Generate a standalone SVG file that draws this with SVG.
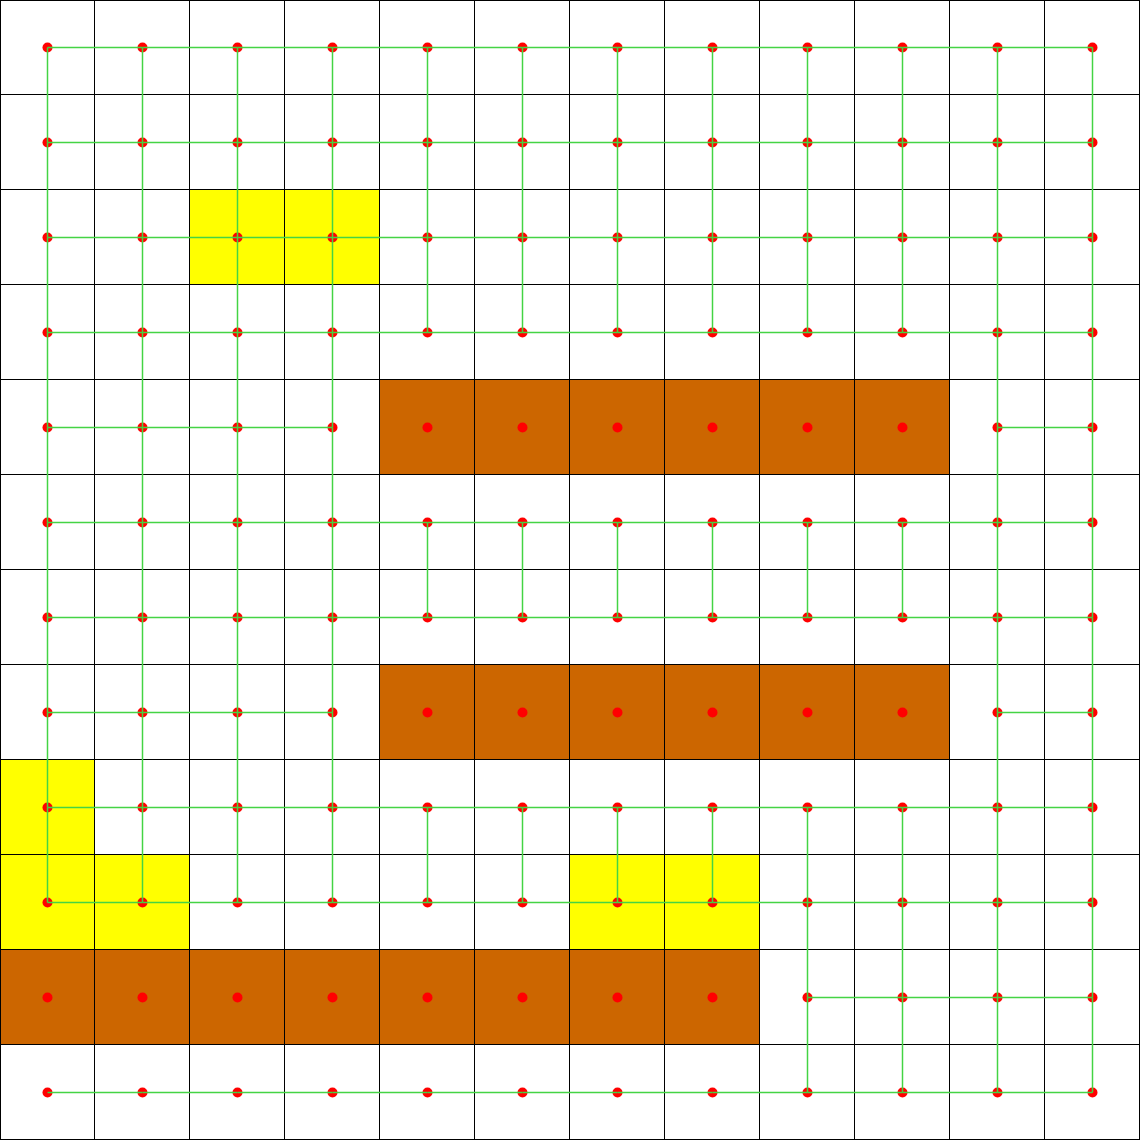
<svg xmlns="http://www.w3.org/2000/svg" width="1140" height="1140" viewBox="0 0 1140 1140">
<style>
.w{fill:#ffffff}
.y{fill:#ffff00}
.b{fill:#cc6600}
.d{fill:#ff0000}
#grid{fill:none;stroke:#000000;stroke-width:1}
#connectors path{fill:none;stroke:#44d444;stroke-width:1.5}
</style>
<defs>
<rect id="cell" width="95" height="95"/>
<circle id="dot" class="d" cx="47.5" cy="47.5" r="5"/>
</defs>
<rect width="1140" height="1140" fill="#ffffff"/>
<g id="nodes">
<g id="n0_0" class="w" transform="translate(0,0)"><use href="#cell"/><use href="#dot"/></g>
<g id="n0_1" class="w" transform="translate(95,0)"><use href="#cell"/><use href="#dot"/></g>
<g id="n0_2" class="w" transform="translate(190,0)"><use href="#cell"/><use href="#dot"/></g>
<g id="n0_3" class="w" transform="translate(285,0)"><use href="#cell"/><use href="#dot"/></g>
<g id="n0_4" class="w" transform="translate(380,0)"><use href="#cell"/><use href="#dot"/></g>
<g id="n0_5" class="w" transform="translate(475,0)"><use href="#cell"/><use href="#dot"/></g>
<g id="n0_6" class="w" transform="translate(570,0)"><use href="#cell"/><use href="#dot"/></g>
<g id="n0_7" class="w" transform="translate(665,0)"><use href="#cell"/><use href="#dot"/></g>
<g id="n0_8" class="w" transform="translate(760,0)"><use href="#cell"/><use href="#dot"/></g>
<g id="n0_9" class="w" transform="translate(855,0)"><use href="#cell"/><use href="#dot"/></g>
<g id="n0_10" class="w" transform="translate(950,0)"><use href="#cell"/><use href="#dot"/></g>
<g id="n0_11" class="w" transform="translate(1045,0)"><use href="#cell"/><use href="#dot"/></g>
<g id="n1_0" class="w" transform="translate(0,95)"><use href="#cell"/><use href="#dot"/></g>
<g id="n1_1" class="w" transform="translate(95,95)"><use href="#cell"/><use href="#dot"/></g>
<g id="n1_2" class="w" transform="translate(190,95)"><use href="#cell"/><use href="#dot"/></g>
<g id="n1_3" class="w" transform="translate(285,95)"><use href="#cell"/><use href="#dot"/></g>
<g id="n1_4" class="w" transform="translate(380,95)"><use href="#cell"/><use href="#dot"/></g>
<g id="n1_5" class="w" transform="translate(475,95)"><use href="#cell"/><use href="#dot"/></g>
<g id="n1_6" class="w" transform="translate(570,95)"><use href="#cell"/><use href="#dot"/></g>
<g id="n1_7" class="w" transform="translate(665,95)"><use href="#cell"/><use href="#dot"/></g>
<g id="n1_8" class="w" transform="translate(760,95)"><use href="#cell"/><use href="#dot"/></g>
<g id="n1_9" class="w" transform="translate(855,95)"><use href="#cell"/><use href="#dot"/></g>
<g id="n1_10" class="w" transform="translate(950,95)"><use href="#cell"/><use href="#dot"/></g>
<g id="n1_11" class="w" transform="translate(1045,95)"><use href="#cell"/><use href="#dot"/></g>
<g id="n2_0" class="w" transform="translate(0,190)"><use href="#cell"/><use href="#dot"/></g>
<g id="n2_1" class="w" transform="translate(95,190)"><use href="#cell"/><use href="#dot"/></g>
<g id="n2_2" class="y" transform="translate(190,190)"><use href="#cell"/><use href="#dot"/></g>
<g id="n2_3" class="y" transform="translate(285,190)"><use href="#cell"/><use href="#dot"/></g>
<g id="n2_4" class="w" transform="translate(380,190)"><use href="#cell"/><use href="#dot"/></g>
<g id="n2_5" class="w" transform="translate(475,190)"><use href="#cell"/><use href="#dot"/></g>
<g id="n2_6" class="w" transform="translate(570,190)"><use href="#cell"/><use href="#dot"/></g>
<g id="n2_7" class="w" transform="translate(665,190)"><use href="#cell"/><use href="#dot"/></g>
<g id="n2_8" class="w" transform="translate(760,190)"><use href="#cell"/><use href="#dot"/></g>
<g id="n2_9" class="w" transform="translate(855,190)"><use href="#cell"/><use href="#dot"/></g>
<g id="n2_10" class="w" transform="translate(950,190)"><use href="#cell"/><use href="#dot"/></g>
<g id="n2_11" class="w" transform="translate(1045,190)"><use href="#cell"/><use href="#dot"/></g>
<g id="n3_0" class="w" transform="translate(0,285)"><use href="#cell"/><use href="#dot"/></g>
<g id="n3_1" class="w" transform="translate(95,285)"><use href="#cell"/><use href="#dot"/></g>
<g id="n3_2" class="w" transform="translate(190,285)"><use href="#cell"/><use href="#dot"/></g>
<g id="n3_3" class="w" transform="translate(285,285)"><use href="#cell"/><use href="#dot"/></g>
<g id="n3_4" class="w" transform="translate(380,285)"><use href="#cell"/><use href="#dot"/></g>
<g id="n3_5" class="w" transform="translate(475,285)"><use href="#cell"/><use href="#dot"/></g>
<g id="n3_6" class="w" transform="translate(570,285)"><use href="#cell"/><use href="#dot"/></g>
<g id="n3_7" class="w" transform="translate(665,285)"><use href="#cell"/><use href="#dot"/></g>
<g id="n3_8" class="w" transform="translate(760,285)"><use href="#cell"/><use href="#dot"/></g>
<g id="n3_9" class="w" transform="translate(855,285)"><use href="#cell"/><use href="#dot"/></g>
<g id="n3_10" class="w" transform="translate(950,285)"><use href="#cell"/><use href="#dot"/></g>
<g id="n3_11" class="w" transform="translate(1045,285)"><use href="#cell"/><use href="#dot"/></g>
<g id="n4_0" class="w" transform="translate(0,380)"><use href="#cell"/><use href="#dot"/></g>
<g id="n4_1" class="w" transform="translate(95,380)"><use href="#cell"/><use href="#dot"/></g>
<g id="n4_2" class="w" transform="translate(190,380)"><use href="#cell"/><use href="#dot"/></g>
<g id="n4_3" class="w" transform="translate(285,380)"><use href="#cell"/><use href="#dot"/></g>
<g id="n4_4" class="b" transform="translate(380,380)"><use href="#cell"/><use href="#dot"/></g>
<g id="n4_5" class="b" transform="translate(475,380)"><use href="#cell"/><use href="#dot"/></g>
<g id="n4_6" class="b" transform="translate(570,380)"><use href="#cell"/><use href="#dot"/></g>
<g id="n4_7" class="b" transform="translate(665,380)"><use href="#cell"/><use href="#dot"/></g>
<g id="n4_8" class="b" transform="translate(760,380)"><use href="#cell"/><use href="#dot"/></g>
<g id="n4_9" class="b" transform="translate(855,380)"><use href="#cell"/><use href="#dot"/></g>
<g id="n4_10" class="w" transform="translate(950,380)"><use href="#cell"/><use href="#dot"/></g>
<g id="n4_11" class="w" transform="translate(1045,380)"><use href="#cell"/><use href="#dot"/></g>
<g id="n5_0" class="w" transform="translate(0,475)"><use href="#cell"/><use href="#dot"/></g>
<g id="n5_1" class="w" transform="translate(95,475)"><use href="#cell"/><use href="#dot"/></g>
<g id="n5_2" class="w" transform="translate(190,475)"><use href="#cell"/><use href="#dot"/></g>
<g id="n5_3" class="w" transform="translate(285,475)"><use href="#cell"/><use href="#dot"/></g>
<g id="n5_4" class="w" transform="translate(380,475)"><use href="#cell"/><use href="#dot"/></g>
<g id="n5_5" class="w" transform="translate(475,475)"><use href="#cell"/><use href="#dot"/></g>
<g id="n5_6" class="w" transform="translate(570,475)"><use href="#cell"/><use href="#dot"/></g>
<g id="n5_7" class="w" transform="translate(665,475)"><use href="#cell"/><use href="#dot"/></g>
<g id="n5_8" class="w" transform="translate(760,475)"><use href="#cell"/><use href="#dot"/></g>
<g id="n5_9" class="w" transform="translate(855,475)"><use href="#cell"/><use href="#dot"/></g>
<g id="n5_10" class="w" transform="translate(950,475)"><use href="#cell"/><use href="#dot"/></g>
<g id="n5_11" class="w" transform="translate(1045,475)"><use href="#cell"/><use href="#dot"/></g>
<g id="n6_0" class="w" transform="translate(0,570)"><use href="#cell"/><use href="#dot"/></g>
<g id="n6_1" class="w" transform="translate(95,570)"><use href="#cell"/><use href="#dot"/></g>
<g id="n6_2" class="w" transform="translate(190,570)"><use href="#cell"/><use href="#dot"/></g>
<g id="n6_3" class="w" transform="translate(285,570)"><use href="#cell"/><use href="#dot"/></g>
<g id="n6_4" class="w" transform="translate(380,570)"><use href="#cell"/><use href="#dot"/></g>
<g id="n6_5" class="w" transform="translate(475,570)"><use href="#cell"/><use href="#dot"/></g>
<g id="n6_6" class="w" transform="translate(570,570)"><use href="#cell"/><use href="#dot"/></g>
<g id="n6_7" class="w" transform="translate(665,570)"><use href="#cell"/><use href="#dot"/></g>
<g id="n6_8" class="w" transform="translate(760,570)"><use href="#cell"/><use href="#dot"/></g>
<g id="n6_9" class="w" transform="translate(855,570)"><use href="#cell"/><use href="#dot"/></g>
<g id="n6_10" class="w" transform="translate(950,570)"><use href="#cell"/><use href="#dot"/></g>
<g id="n6_11" class="w" transform="translate(1045,570)"><use href="#cell"/><use href="#dot"/></g>
<g id="n7_0" class="w" transform="translate(0,665)"><use href="#cell"/><use href="#dot"/></g>
<g id="n7_1" class="w" transform="translate(95,665)"><use href="#cell"/><use href="#dot"/></g>
<g id="n7_2" class="w" transform="translate(190,665)"><use href="#cell"/><use href="#dot"/></g>
<g id="n7_3" class="w" transform="translate(285,665)"><use href="#cell"/><use href="#dot"/></g>
<g id="n7_4" class="b" transform="translate(380,665)"><use href="#cell"/><use href="#dot"/></g>
<g id="n7_5" class="b" transform="translate(475,665)"><use href="#cell"/><use href="#dot"/></g>
<g id="n7_6" class="b" transform="translate(570,665)"><use href="#cell"/><use href="#dot"/></g>
<g id="n7_7" class="b" transform="translate(665,665)"><use href="#cell"/><use href="#dot"/></g>
<g id="n7_8" class="b" transform="translate(760,665)"><use href="#cell"/><use href="#dot"/></g>
<g id="n7_9" class="b" transform="translate(855,665)"><use href="#cell"/><use href="#dot"/></g>
<g id="n7_10" class="w" transform="translate(950,665)"><use href="#cell"/><use href="#dot"/></g>
<g id="n7_11" class="w" transform="translate(1045,665)"><use href="#cell"/><use href="#dot"/></g>
<g id="n8_0" class="y" transform="translate(0,760)"><use href="#cell"/><use href="#dot"/></g>
<g id="n8_1" class="w" transform="translate(95,760)"><use href="#cell"/><use href="#dot"/></g>
<g id="n8_2" class="w" transform="translate(190,760)"><use href="#cell"/><use href="#dot"/></g>
<g id="n8_3" class="w" transform="translate(285,760)"><use href="#cell"/><use href="#dot"/></g>
<g id="n8_4" class="w" transform="translate(380,760)"><use href="#cell"/><use href="#dot"/></g>
<g id="n8_5" class="w" transform="translate(475,760)"><use href="#cell"/><use href="#dot"/></g>
<g id="n8_6" class="w" transform="translate(570,760)"><use href="#cell"/><use href="#dot"/></g>
<g id="n8_7" class="w" transform="translate(665,760)"><use href="#cell"/><use href="#dot"/></g>
<g id="n8_8" class="w" transform="translate(760,760)"><use href="#cell"/><use href="#dot"/></g>
<g id="n8_9" class="w" transform="translate(855,760)"><use href="#cell"/><use href="#dot"/></g>
<g id="n8_10" class="w" transform="translate(950,760)"><use href="#cell"/><use href="#dot"/></g>
<g id="n8_11" class="w" transform="translate(1045,760)"><use href="#cell"/><use href="#dot"/></g>
<g id="n9_0" class="y" transform="translate(0,855)"><use href="#cell"/><use href="#dot"/></g>
<g id="n9_1" class="y" transform="translate(95,855)"><use href="#cell"/><use href="#dot"/></g>
<g id="n9_2" class="w" transform="translate(190,855)"><use href="#cell"/><use href="#dot"/></g>
<g id="n9_3" class="w" transform="translate(285,855)"><use href="#cell"/><use href="#dot"/></g>
<g id="n9_4" class="w" transform="translate(380,855)"><use href="#cell"/><use href="#dot"/></g>
<g id="n9_5" class="w" transform="translate(475,855)"><use href="#cell"/><use href="#dot"/></g>
<g id="n9_6" class="y" transform="translate(570,855)"><use href="#cell"/><use href="#dot"/></g>
<g id="n9_7" class="y" transform="translate(665,855)"><use href="#cell"/><use href="#dot"/></g>
<g id="n9_8" class="w" transform="translate(760,855)"><use href="#cell"/><use href="#dot"/></g>
<g id="n9_9" class="w" transform="translate(855,855)"><use href="#cell"/><use href="#dot"/></g>
<g id="n9_10" class="w" transform="translate(950,855)"><use href="#cell"/><use href="#dot"/></g>
<g id="n9_11" class="w" transform="translate(1045,855)"><use href="#cell"/><use href="#dot"/></g>
<g id="n10_0" class="b" transform="translate(0,950)"><use href="#cell"/><use href="#dot"/></g>
<g id="n10_1" class="b" transform="translate(95,950)"><use href="#cell"/><use href="#dot"/></g>
<g id="n10_2" class="b" transform="translate(190,950)"><use href="#cell"/><use href="#dot"/></g>
<g id="n10_3" class="b" transform="translate(285,950)"><use href="#cell"/><use href="#dot"/></g>
<g id="n10_4" class="b" transform="translate(380,950)"><use href="#cell"/><use href="#dot"/></g>
<g id="n10_5" class="b" transform="translate(475,950)"><use href="#cell"/><use href="#dot"/></g>
<g id="n10_6" class="b" transform="translate(570,950)"><use href="#cell"/><use href="#dot"/></g>
<g id="n10_7" class="b" transform="translate(665,950)"><use href="#cell"/><use href="#dot"/></g>
<g id="n10_8" class="w" transform="translate(760,950)"><use href="#cell"/><use href="#dot"/></g>
<g id="n10_9" class="w" transform="translate(855,950)"><use href="#cell"/><use href="#dot"/></g>
<g id="n10_10" class="w" transform="translate(950,950)"><use href="#cell"/><use href="#dot"/></g>
<g id="n10_11" class="w" transform="translate(1045,950)"><use href="#cell"/><use href="#dot"/></g>
<g id="n11_0" class="w" transform="translate(0,1045)"><use href="#cell"/><use href="#dot"/></g>
<g id="n11_1" class="w" transform="translate(95,1045)"><use href="#cell"/><use href="#dot"/></g>
<g id="n11_2" class="w" transform="translate(190,1045)"><use href="#cell"/><use href="#dot"/></g>
<g id="n11_3" class="w" transform="translate(285,1045)"><use href="#cell"/><use href="#dot"/></g>
<g id="n11_4" class="w" transform="translate(380,1045)"><use href="#cell"/><use href="#dot"/></g>
<g id="n11_5" class="w" transform="translate(475,1045)"><use href="#cell"/><use href="#dot"/></g>
<g id="n11_6" class="w" transform="translate(570,1045)"><use href="#cell"/><use href="#dot"/></g>
<g id="n11_7" class="w" transform="translate(665,1045)"><use href="#cell"/><use href="#dot"/></g>
<g id="n11_8" class="w" transform="translate(760,1045)"><use href="#cell"/><use href="#dot"/></g>
<g id="n11_9" class="w" transform="translate(855,1045)"><use href="#cell"/><use href="#dot"/></g>
<g id="n11_10" class="w" transform="translate(950,1045)"><use href="#cell"/><use href="#dot"/></g>
<g id="n11_11" class="w" transform="translate(1045,1045)"><use href="#cell"/><use href="#dot"/></g>
</g>
<path id="grid" d="M0.5 0V1140M94.5 0V1140M189.5 0V1140M284.5 0V1140M379.5 0V1140M474.5 0V1140M569.5 0V1140M664.5 0V1140M759.5 0V1140M854.5 0V1140M949.5 0V1140M1044.5 0V1140M1139.5 0V1140M0 0.5H1140M0 94.5H1140M0 189.5H1140M0 284.5H1140M0 379.5H1140M0 474.5H1140M0 569.5H1140M0 664.5H1140M0 759.5H1140M0 854.5H1140M0 949.5H1140M0 1044.5H1140M0 1139.5H1140"/>
<g id="connectors">
<path d="M47.5 47.5h95"/><path d="M142.5 47.5h95"/><path d="M237.5 47.5h95"/><path d="M332.5 47.5h95"/><path d="M427.5 47.5h95"/><path d="M522.5 47.5h95"/><path d="M617.5 47.5h95"/><path d="M712.5 47.5h95"/><path d="M807.5 47.5h95"/><path d="M902.5 47.5h95"/><path d="M997.5 47.5h95"/>
<path d="M47.5 142.5h95"/><path d="M142.5 142.5h95"/><path d="M237.5 142.5h95"/><path d="M332.5 142.5h95"/><path d="M427.5 142.5h95"/><path d="M522.5 142.5h95"/><path d="M617.5 142.5h95"/><path d="M712.5 142.5h95"/><path d="M807.5 142.5h95"/><path d="M902.5 142.5h95"/><path d="M997.5 142.5h95"/>
<path d="M47.5 237.5h95"/><path d="M142.5 237.5h95"/><path d="M237.5 237.5h95"/><path d="M332.5 237.5h95"/><path d="M427.5 237.5h95"/><path d="M522.5 237.5h95"/><path d="M617.5 237.5h95"/><path d="M712.5 237.5h95"/><path d="M807.5 237.5h95"/><path d="M902.5 237.5h95"/><path d="M997.5 237.5h95"/>
<path d="M47.5 332.5h95"/><path d="M142.5 332.5h95"/><path d="M237.5 332.5h95"/><path d="M332.5 332.5h95"/><path d="M427.5 332.5h95"/><path d="M522.5 332.5h95"/><path d="M617.5 332.5h95"/><path d="M712.5 332.5h95"/><path d="M807.5 332.5h95"/><path d="M902.5 332.5h95"/><path d="M997.5 332.5h95"/>
<path d="M47.5 427.5h95"/><path d="M142.5 427.5h95"/><path d="M237.5 427.5h95"/><path d="M997.5 427.5h95"/>
<path d="M47.5 522.5h95"/><path d="M142.5 522.5h95"/><path d="M237.5 522.5h95"/><path d="M332.5 522.5h95"/><path d="M427.5 522.5h95"/><path d="M522.5 522.5h95"/><path d="M617.5 522.5h95"/><path d="M712.5 522.5h95"/><path d="M807.5 522.5h95"/><path d="M902.5 522.5h95"/><path d="M997.5 522.5h95"/>
<path d="M47.5 617.5h95"/><path d="M142.5 617.5h95"/><path d="M237.5 617.5h95"/><path d="M332.5 617.5h95"/><path d="M427.5 617.5h95"/><path d="M522.5 617.5h95"/><path d="M617.5 617.5h95"/><path d="M712.5 617.5h95"/><path d="M807.5 617.5h95"/><path d="M902.5 617.5h95"/><path d="M997.5 617.5h95"/>
<path d="M47.5 712.5h95"/><path d="M142.5 712.5h95"/><path d="M237.5 712.5h95"/><path d="M997.5 712.5h95"/>
<path d="M47.5 807.5h95"/><path d="M142.5 807.5h95"/><path d="M237.5 807.5h95"/><path d="M332.5 807.5h95"/><path d="M427.5 807.5h95"/><path d="M522.5 807.5h95"/><path d="M617.5 807.5h95"/><path d="M712.5 807.5h95"/><path d="M807.5 807.5h95"/><path d="M902.5 807.5h95"/><path d="M997.5 807.5h95"/>
<path d="M47.5 902.5h95"/><path d="M142.5 902.5h95"/><path d="M237.5 902.5h95"/><path d="M332.5 902.5h95"/><path d="M427.5 902.5h95"/><path d="M522.5 902.5h95"/><path d="M617.5 902.5h95"/><path d="M712.5 902.5h95"/><path d="M807.5 902.5h95"/><path d="M902.5 902.5h95"/><path d="M997.5 902.5h95"/>
<path d="M807.5 997.5h95"/><path d="M902.5 997.5h95"/><path d="M997.5 997.5h95"/>
<path d="M47.5 1092.5h95"/><path d="M142.5 1092.5h95"/><path d="M237.5 1092.5h95"/><path d="M332.5 1092.5h95"/><path d="M427.5 1092.5h95"/><path d="M522.5 1092.5h95"/><path d="M617.5 1092.5h95"/><path d="M712.5 1092.5h95"/><path d="M807.5 1092.5h95"/><path d="M902.5 1092.5h95"/><path d="M997.5 1092.5h95"/>
<path d="M47.5 47.5v95"/><path d="M47.5 142.5v95"/><path d="M47.5 237.5v95"/><path d="M47.5 332.5v95"/><path d="M47.5 427.5v95"/><path d="M47.5 522.5v95"/><path d="M47.5 617.5v95"/><path d="M47.5 712.5v95"/><path d="M47.5 807.5v95"/>
<path d="M142.5 47.5v95"/><path d="M142.5 142.5v95"/><path d="M142.5 237.5v95"/><path d="M142.5 332.5v95"/><path d="M142.5 427.5v95"/><path d="M142.5 522.5v95"/><path d="M142.5 617.5v95"/><path d="M142.5 712.5v95"/><path d="M142.5 807.5v95"/>
<path d="M237.5 47.5v95"/><path d="M237.5 142.5v95"/><path d="M237.5 237.5v95"/><path d="M237.5 332.5v95"/><path d="M237.5 427.5v95"/><path d="M237.5 522.5v95"/><path d="M237.5 617.5v95"/><path d="M237.5 712.5v95"/><path d="M237.5 807.5v95"/>
<path d="M332.5 47.5v95"/><path d="M332.5 142.5v95"/><path d="M332.5 237.5v95"/><path d="M332.5 332.5v95"/><path d="M332.5 427.5v95"/><path d="M332.5 522.5v95"/><path d="M332.5 617.5v95"/><path d="M332.5 712.5v95"/><path d="M332.5 807.5v95"/>
<path d="M427.5 47.5v95"/><path d="M427.5 142.5v95"/><path d="M427.5 237.5v95"/><path d="M427.5 522.5v95"/><path d="M427.5 807.5v95"/>
<path d="M522.5 47.5v95"/><path d="M522.5 142.5v95"/><path d="M522.5 237.5v95"/><path d="M522.5 522.5v95"/><path d="M522.5 807.5v95"/>
<path d="M617.5 47.5v95"/><path d="M617.5 142.5v95"/><path d="M617.5 237.5v95"/><path d="M617.5 522.5v95"/><path d="M617.5 807.5v95"/>
<path d="M712.5 47.5v95"/><path d="M712.5 142.5v95"/><path d="M712.5 237.5v95"/><path d="M712.5 522.5v95"/><path d="M712.5 807.5v95"/>
<path d="M807.5 47.5v95"/><path d="M807.5 142.5v95"/><path d="M807.5 237.5v95"/><path d="M807.5 522.5v95"/><path d="M807.5 807.5v95"/><path d="M807.5 902.5v95"/><path d="M807.5 997.5v95"/>
<path d="M902.5 47.5v95"/><path d="M902.5 142.5v95"/><path d="M902.5 237.5v95"/><path d="M902.5 522.5v95"/><path d="M902.5 807.5v95"/><path d="M902.5 902.5v95"/><path d="M902.5 997.5v95"/>
<path d="M997.5 47.5v95"/><path d="M997.5 142.5v95"/><path d="M997.5 237.5v95"/><path d="M997.5 332.5v95"/><path d="M997.5 427.5v95"/><path d="M997.5 522.5v95"/><path d="M997.5 617.5v95"/><path d="M997.5 712.5v95"/><path d="M997.5 807.5v95"/><path d="M997.5 902.5v95"/><path d="M997.5 997.5v95"/>
<path d="M1092.5 47.5v95"/><path d="M1092.5 142.5v95"/><path d="M1092.5 237.5v95"/><path d="M1092.5 332.5v95"/><path d="M1092.5 427.5v95"/><path d="M1092.5 522.5v95"/><path d="M1092.5 617.5v95"/><path d="M1092.5 712.5v95"/><path d="M1092.5 807.5v95"/><path d="M1092.5 902.5v95"/><path d="M1092.5 997.5v95"/>
</g>
</svg>
